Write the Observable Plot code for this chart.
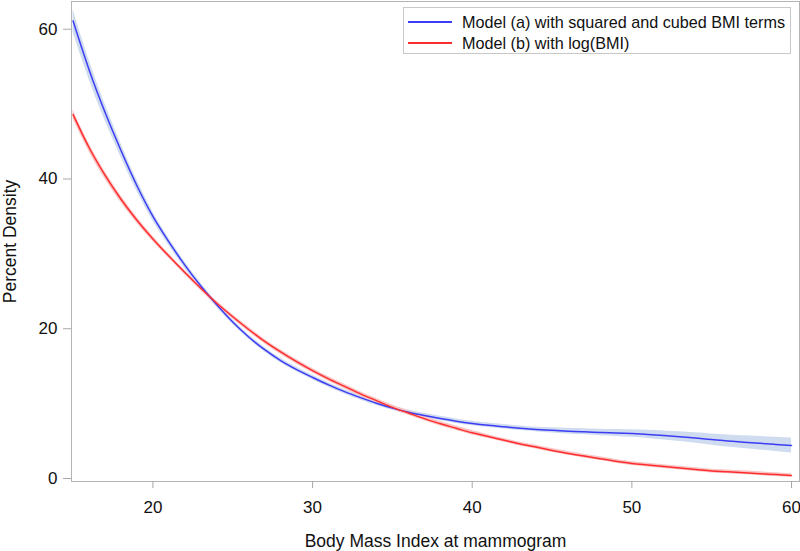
<!DOCTYPE html>
<html>
<head>
<meta charset="utf-8">
<script src="https://cdn.jsdelivr.net/npm/d3@7"></script>
<script src="https://cdn.jsdelivr.net/npm/@observablehq/plot@0.6"></script>
<style>
  html, body { margin: 0; padding: 0; background: #fff; }
  #wrap { position: relative; width: 800px; height: 551px; font-family: "Liberation Sans", Arial, sans-serif; }
  #legend { position: absolute; left: 403px; top: 7px; width: 388px; height: 47px; border: 1px solid #c8c8c8; box-sizing: border-box; background: #fff; font-size: 16.2px; color: #111; }
  .row { position: absolute; left: 0; height: 20px; display: flex; align-items: center; }
  .swatch { display: inline-block; width: 44px; height: 2px; margin-left: 4px; margin-right: 10px; }
</style>
</head>
<body>
<div id="wrap"></div>
<script>
// BMI grid
const bmi = [15,16,17,18,19,20,21,22,23,24,25,26,27,28,29,30,31,32,33,34,35,36,37,38,39,40,41,42,43,44,45,46,47,48,49,50,51,52,53,54,55,56,57,58,59,60];
// Model (a): squared and cubed BMI terms
const modelA = [61.1,54.6,48.9,43.8,39.1,35.0,31.6,28.5,25.7,23.2,20.9,18.9,17.2,15.75,14.55,13.5,12.5,11.6,10.8,10.05,9.4,8.85,8.4,8.0,7.65,7.35,7.1,6.9,6.72,6.56,6.43,6.32,6.23,6.15,6.08,6.0,5.88,5.74,5.58,5.4,5.2,5.0,4.85,4.7,4.55,4.4];
const modelAHalfCI = [1.5,1.3,1.1,0.9,0.75,0.6,0.5,0.45,0.4,0.35,0.3,0.3,0.3,0.3,0.3,0.3,0.3,0.3,0.3,0.3,0.3,0.3,0.3,0.3,0.3,0.3,0.3,0.3,0.3,0.3,0.35,0.38,0.4,0.43,0.46,0.5,0.55,0.6,0.65,0.7,0.75,0.8,0.85,0.9,0.95,1.0];
// Model (b): log(BMI)
const modelB = [48.6,44.2,40.5,37.3,34.5,32.0,29.7,27.5,25.4,23.4,21.6,19.9,18.3,16.9,15.6,14.4,13.3,12.3,11.3,10.4,9.5,8.75,8.0,7.3,6.7,6.1,5.6,5.1,4.6,4.2,3.75,3.35,3.0,2.65,2.3,2.0,1.8,1.6,1.4,1.2,1.0,0.9,0.78,0.65,0.52,0.4];
const modelBHalfCI = [0.6,0.55,0.5,0.45,0.4,0.35,0.3,0.3,0.3,0.3,0.3,0.3,0.3,0.3,0.3,0.3,0.3,0.3,0.3,0.3,0.3,0.3,0.3,0.3,0.3,0.3,0.25,0.25,0.25,0.25,0.25,0.25,0.25,0.25,0.25,0.25,0.25,0.25,0.25,0.25,0.25,0.25,0.25,0.25,0.25,0.25];
const seriesNames = ["Model (a) with squared and cubed BMI terms", "Model (b) with log(BMI)"];
const xTicks = [20,30,40,50,60];
const yTicks = [0,20,40,60];

const lineColors = ["#3c3cf5", "#ff2e2e"];
const bandColors = ["#cfdcf0", "#f9c4c4"];

const rowsA = bmi.map((x, i) => ({x, y: modelA[i], lo: modelA[i] - modelAHalfCI[i], hi: modelA[i] + modelAHalfCI[i]}));
const rowsB = bmi.map((x, i) => ({x, y: modelB[i], lo: modelB[i] - modelBHalfCI[i], hi: modelB[i] + modelBHalfCI[i]}));

const chart = Plot.plot({
  width: 800,
  height: 551,
  marginLeft: 71,
  marginRight: 1,
  marginTop: 1,
  marginBottom: 70,
  style: { fontFamily: "'Liberation Sans', Arial, sans-serif", fontSize: "17px", color: "#111", background: "#fff" },
  x: { domain: [14.9, 60.5], label: null },
  y: { domain: [-0.4, 63.7], label: null },
  marks: [
    Plot.areaY(rowsA, {x: "x", y1: "lo", y2: "hi", fill: bandColors[0], fillOpacity: 1, curve: "monotone-x"}),
    Plot.areaY(rowsB, {x: "x", y1: "lo", y2: "hi", fill: bandColors[1], fillOpacity: 1, curve: "monotone-x"}),
    Plot.line(rowsA, {x: "x", y: "y", stroke: lineColors[0], strokeWidth: 1.5, curve: "monotone-x"}),
    Plot.line(rowsB, {x: "x", y: "y", stroke: lineColors[1], strokeWidth: 1.5, curve: "monotone-x"}),
    Plot.frame({stroke: "#b4b4b4", strokeWidth: 1}),
    Plot.axisX({ticks: xTicks, tickSize: 7, tickPadding: 12, stroke: "#a8a8a8", fontSize: 17, label: null}),
    Plot.axisX({ticks: [], tickSize: 0, fontSize: 17.5, label: "Body Mass Index at mammogram", labelAnchor: "center", labelOffset: 65, labelArrow: "none"}),
    Plot.axisY({ticks: yTicks, tickSize: 8, tickPadding: 6, stroke: "#a8a8a8", fontSize: 17, label: null}),
    Plot.axisY({ticks: [], tickSize: 0, fontSize: 17.5, label: "Percent Density", labelAnchor: "center", labelOffset: 68, labelArrow: "none"})
  ]
});

const wrap = document.getElementById("wrap");
wrap.appendChild(chart);

const legend = document.createElement("div");
legend.id = "legend";
seriesNames.forEach((name, i) => {
  const row = document.createElement("div");
  row.className = "row";
  row.style.top = (4 + i * 21) + "px";
  const sw = document.createElement("span");
  sw.className = "swatch";
  sw.style.background = lineColors[i];
  const t = document.createElement("span");
  t.textContent = name;
  row.appendChild(sw);
  row.appendChild(t);
  legend.appendChild(row);
});
wrap.appendChild(legend);
</script>
</body>
</html>
